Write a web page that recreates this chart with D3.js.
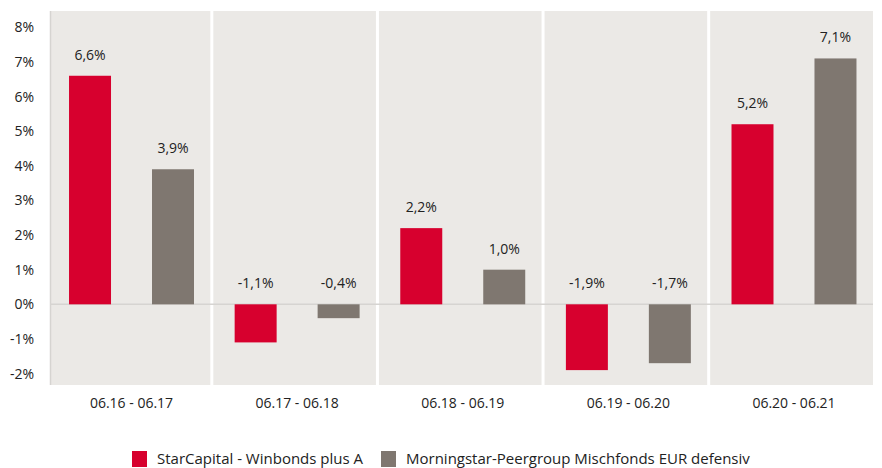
<!DOCTYPE html>
<html>
<head>
<meta charset="utf-8">
<script src="https://cdn.jsdelivr.net/npm/d3@7"></script>
<style>
  body { margin: 0; background: #fff; }
  svg { display: block; font-family: 'Open Sans', sans-serif; }
</style>
</head>
<body>
<div id="chart"></div>
<script>
// data
const periods = ['06.16 - 06.17', '06.17 - 06.18', '06.18 - 06.19', '06.19 - 06.20', '06.20 - 06.21'];
const seriesNames = ['StarCapital - Winbonds plus A', 'Morningstar-Peergroup Mischfonds EUR defensiv'];
const fundValues = [6.6, -1.1, 2.2, -1.9, 5.2];
const peerValues = [3.9, -0.4, 1.0, -1.7, 7.1];
const yTicks = [-2, -1, 0, 1, 2, 3, 4, 5, 6, 7, 8];

const colors = ['#d7002e', '#7f7770'];
const width = 882;
const height = 468;

const rows = periods.map((p, i) => ({ period: p, values: [fundValues[i], peerValues[i]] }));

// german style percent, plain hyphen for negatives
const fmtPct = v => d3.format('.1f')(v).replace('\u2212', '-').replace('.', ',') + '%';

const svg = d3.select('#chart')
  .append('svg')
  .attr('width', width)
  .attr('height', height);

const plot = { left: 50, right: 873, top: 11, bottom: 385 };

const x0 = d3.scaleBand()
  .domain(periods)
  .range([48.7, 876.8]);

const x1 = d3.scaleBand()
  .domain([0, 1])
  .range([0, x0.bandwidth()])
  .paddingInner(0.494)
  .paddingOuter(0.245);

const y = d3.scaleLinear()
  .domain([-2.33, 8.47])
  .range([plot.bottom, plot.top]);

// background
svg.append('rect')
  .attr('x', plot.left)
  .attr('y', plot.top)
  .attr('width', plot.right - plot.left)
  .attr('height', plot.bottom - plot.top)
  .attr('fill', '#ebe9e6');

// white separators between periods
svg.append('g')
  .selectAll('rect')
  .data(periods.slice(1))
  .join('rect')
  .attr('x', d => x0(d) - 4)
  .attr('y', plot.top)
  .attr('width', 3)
  .attr('height', plot.bottom - plot.top)
  .attr('fill', '#fff');

// left axis line
svg.append('line')
  .attr('x1', plot.left + 0.5).attr('x2', plot.left + 0.5)
  .attr('y1', plot.top).attr('y2', plot.bottom)
  .attr('stroke', '#d6d4d1')
  .attr('stroke-width', 1.5);

// zero line
svg.append('line')
  .attr('x1', plot.left).attr('x2', plot.right)
  .attr('y1', y(0)).attr('y2', y(0))
  .attr('stroke', '#d6d4d1')
  .attr('stroke-width', 1.5);

// y axis labels
const yAxis = d3.axisLeft(y)
  .tickValues(yTicks)
  .tickSize(0)
  .tickPadding(0)
  .tickFormat(d => d + '%');

svg.append('g')
  .attr('transform', 'translate(34,0)')
  .call(yAxis)
  .call(g => g.select('.domain').remove())
  .call(g => g.selectAll('text')
    .attr('fill', '#222')
    .style('font-size', '14px')
    .style('font-family', "'Open Sans', sans-serif"));

// bars
const groups = svg.append('g')
  .selectAll('g')
  .data(rows)
  .join('g')
  .attr('transform', d => `translate(${x0(d.period)},0)`);

groups.selectAll('rect')
  .data(d => d.values.map((v, k) => ({ v, k })))
  .join('rect')
  .attr('x', d => x1(d.k))
  .attr('width', x1.bandwidth())
  .attr('y', d => y(Math.max(d.v, 0)))
  .attr('height', d => Math.abs(y(d.v) - y(0)))
  .attr('fill', d => colors[d.k]);

groups.selectAll('text')
  .data(d => d.values.map((v, k) => ({ v, k })))
  .join('text')
  .attr('x', d => x1(d.k) + x1.bandwidth() / 2)
  .attr('y', d => y(Math.max(d.v, 0)) - 16)
  .attr('text-anchor', 'middle')
  .attr('fill', '#222')
  .style('font-size', '14px')
  .text(d => fmtPct(d.v));

// x axis labels
const xAxis = d3.axisBottom(x0).tickSize(0).tickPadding(0);
svg.append('g')
  .attr('transform', `translate(0,${plot.bottom + 13})`)
  .call(xAxis)
  .call(g => g.select('.domain').remove())
  .call(g => g.selectAll('text')
    .attr('fill', '#222')
    .style('font-size', '14px')
    .style('font-family', "'Open Sans', sans-serif"));

// legend
const legend = svg.append('g').attr('transform', 'translate(132,451)');
const legendX = [0, 249];
seriesNames.forEach((name, i) => {
  const item = legend.append('g').attr('transform', `translate(${legendX[i]},0)`);
  item.append('rect')
    .attr('width', 15)
    .attr('height', 16)
    .attr('fill', colors[i]);
  item.append('text')
    .attr('x', 25)
    .attr('y', 13)
    .attr('fill', '#222')
    .style('font-size', '15px')
    .text(name);
});
</script>
</body>
</html>
